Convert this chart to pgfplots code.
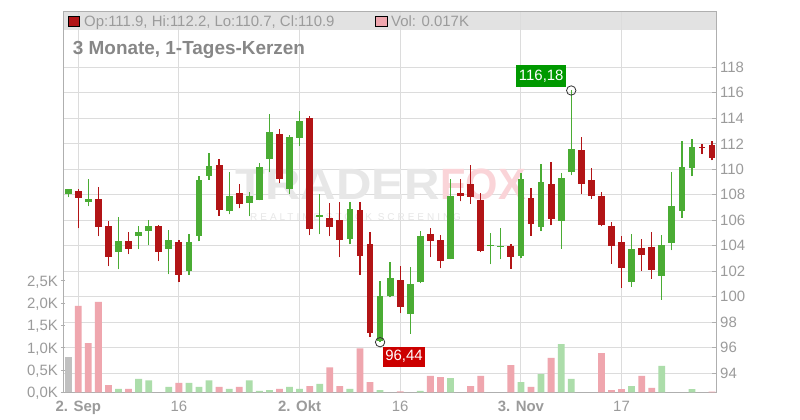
\documentclass[border=0pt]{standalone}
\usepackage{pgfplots}
\pgfplotsset{compat=1.18}
\usepackage{pgfplotstable}
\usepackage{fontspec}
\setmainfont{Liberation Sans}
\newfontfamily\wmfont[LetterSpace=30]{Liberation Sans}
\definecolor{cgreen}{RGB}{74,172,52}
\definecolor{cred}{RGB}{178,20,22}
\definecolor{vpink}{RGB}{239,166,174}
\definecolor{vgreen}{RGB}{172,221,170}
\definecolor{vgrey}{RGB}{192,192,192}
\definecolor{gridc}{RGB}{220,220,220}
\definecolor{axc}{RGB}{175,175,175}
\definecolor{txt}{RGB}{155,155,155}
\definecolor{titlec}{RGB}{135,135,135}
\definecolor{band}{RGB}{226,226,226}
\definecolor{boxgreen}{RGB}{0,153,0}
\definecolor{boxred}{RGB}{204,0,0}
\definecolor{wmgrey}{RGB}{231,231,231}
\definecolor{wmpink}{RGB}{250,212,216}
\newcommand\fs[1]{\fontsize{#1}{#1}\selectfont}

% candles: index (trading day), open, high, low, close
\pgfplotstableread{
i o h l c
0 108.05 108.42 107.82 108.42
2 107.42 109.20 107.11 107.71
5 103.50 106.22 102.17 104.34
7 104.76 105.59 103.74 105.05
8 105.15 105.99 104.05 105.52
10 103.74 105.20 101.78 104.47
12 101.99 104.89 101.71 104.26
13 104.73 109.49 104.36 109.18
14 109.49 111.29 109.18 110.28
16 106.71 109.81 106.47 107.93
18 107.33 108.24 106.32 107.93
19 107.57 110.51 107.57 110.20
20 110.77 114.34 109.76 112.93
22 108.43 112.70 108.04 112.54
23 112.49 114.57 111.86 113.79
25 106.24 108.09 104.91 106.45
28 104.52 107.46 104.13 106.92
31 96.55 101.21 96.44 100.04
32 100.04 102.70 99.96 101.45
34 98.65 102.31 97.09 100.98
35 101.13 105.15 101.08 104.73
38 102.96 109.24 102.96 107.94
42 104.00 105.04 102.57 104.08
43 103.90 105.36 102.96 104.00
45 103.21 109.68 103.05 109.21
47 105.48 110.39 105.16 108.98
49 105.95 109.68 103.75 109.29
50 109.79 116.18 109.55 111.56
56 101.16 104.90 100.77 103.72
59 101.63 104.82 99.75 104.04
60 104.22 109.75 103.67 107.09
61 106.73 112.18 106.18 110.15
62 110.09 112.34 109.47 111.71
}\greencandles

\pgfplotstableread{
i o h l c
1 108.26 108.42 105.39 107.74
3 107.71 108.65 104.76 105.46
4 105.52 105.91 102.41 103.11
6 104.34 105.05 103.35 103.74
9 105.59 105.67 102.80 103.50
11 104.26 104.42 101.16 101.71
15 110.35 110.82 106.37 106.79
17 108.17 108.87 106.94 107.26
21 112.78 113.17 108.90 109.21
24 114.03 114.18 104.83 105.30
26 106.21 107.39 104.76 105.46
27 106.06 107.46 103.11 104.44
29 106.84 107.46 101.71 103.19
30 104.18 105.12 96.86 97.18
33 101.29 102.38 98.71 99.20
36 104.89 105.36 103.11 104.37
37 104.42 104.81 102.25 102.80
39 108.17 109.24 107.49 107.89
40 108.88 110.36 107.29 107.81
41 107.62 108.12 103.50 103.63
44 103.96 104.17 102.19 103.13
46 107.72 108.51 104.77 105.71
48 108.82 110.54 105.61 106.10
51 111.48 112.50 108.06 108.82
52 109.13 110.07 107.67 107.91
53 107.88 108.19 105.53 105.61
54 105.53 105.84 102.58 103.99
55 104.27 104.74 100.69 102.26
57 103.80 104.51 102.03 103.28
58 103.88 105.05 101.40 102.10
63 111.76 111.95 111.19 111.66
64 111.90 112.20 110.70 110.90
}\redcandles

\begin{document}
\begin{tikzpicture}
\path[use as bounding box, fill=white] (-63bp,-27.7bp) rectangle (737bp,392.3bp);
\pgfplotsset{base/.style={at={(0,0)}, anchor=south west, scale only axis,
  width=653bp, height=380.6bp, xmin=-0.517, xmax=64.39},
  candle/.style={only marks, mark=*, mark size=0bp, mark options={draw=none, fill=none}, forget plot}}
% header band
\fill[band] (0bp,362.3bp) rectangle (653bp,380.6bp);
% grid, price axis
\begin{axis}[base, ymin=92.51, ymax=122.36,
  axis line style={draw=axc, line width=0.9bp},
  xtick={1,11,23,33,45,55},
  xticklabels={\textbf{2. Sep},16,\textbf{2. Okt},16,\textbf{3. Nov},17},
  ytick={94,96,...,118},
  yticklabels={94,96,98,100,102,104,106,108,110,112,114,116,118},
  ytick pos=right, xtick pos=bottom,
  grid=major, major grid style={draw=gridc, line width=1bp},
  tick style={draw=axc, line width=0.9bp},
  major tick length=4bp, tick align=inside,
  x tick style={draw=none},
  xticklabel style={font=\fs{15}, text=txt, anchor=base, yshift=-19.4bp, inner sep=0pt},
  yticklabel style={font=\fs{15}, text=txt, anchor=west, inner sep=0pt, xshift=4bp},
]
\addplot[draw=none, forget plot] coordinates {(0,100)};
\end{axis}
% volume axis
\begin{axis}[base, ymin=0, ymax=8.534,
  axis line style={draw=none},
  xtick=\empty,
  ytick={0,0.5,1,1.5,2,2.5},
  yticklabels={{0,0K},{0,5K},{1,0K},{1,5K},{2,0K},{2,5K}},
  ytick pos=left, tick align=center, major tick length=4bp,
  tick style={draw=axc, line width=0.9bp},
  yticklabel style={font=\fs{15}, text=txt, anchor=base east, inner sep=0pt, xshift=-3bp, yshift=-5.4bp},
]
\addplot[ybar, bar width=6.8bp, bar shift=0pt, fill=vgrey, draw=none] coordinates {(0,0.79)};
\addplot[ybar, bar width=6.8bp, bar shift=0pt, fill=vpink, draw=none] coordinates {
(1,1.94)(2,1.10)(3,2.03)(4,0.16)(6,0.074)(11,0.21)(15,0.12)(17,0.12)(21,0.074)
(24,0.14)(26,0.56)(27,0.14)(29,0.985)(30,0.23)(33,0.02)(36,0.37)(37,0.34)(40,0.14)
(41,0.37)(44,0.61)(46,0.12)(48,0.77)(53,0.88)(54,0.05)(55,0.07)(57,0.37)(58,0.10)(64,0.017)};
\addplot[ybar, bar width=6.8bp, bar shift=0pt, fill=vgreen, draw=none] coordinates {
(5,0.074)(7,0.30)(8,0.27)(10,0.12)(12,0.21)(13,0.12)(14,0.27)(16,0.074)(18,0.27)
(19,0.03)(20,0.05)(22,0.12)(23,0.074)(25,0.19)(28,0.074)(31,0.05)(35,0.03)(38,0.32)
(45,0.23)(47,0.41)(49,1.08)(50,0.30)(56,0.14)(59,0.59)(62,0.07)};
\end{axis}
% watermark
\node[anchor=base west, inner sep=0pt, text=wmgrey, font=\fs{44}\bfseries] at (172bp,192.3bp) {\scalebox{1.12}[1]{TRADER}};
\node[anchor=base west, inner sep=0pt, text=wmpink, font=\fs{44}\bfseries] at (377bp,192.3bp) {\scalebox{0.95}[1]{FOX}};
\node[anchor=base west, inner sep=0pt, text=wmgrey, font=\fs{10}\wmfont] at (187bp,172bp) {REALTIME STOCK SCREENING};
% candles
\begin{axis}[base, ymin=92.51, ymax=122.36, hide axis]
\addplot[candle,
  error bars/.cd, y dir=plus, y explicit, error mark=none,
  error bar style={draw=cgreen, line width=1.3bp}]
  table[x=i, y=l, y error plus expr={\thisrow{h}-\thisrow{l}}] {\greencandles};
\addplot[candle,
  error bars/.cd, y dir=both, y explicit, error mark=none,
  error bar style={draw=cgreen, line width=6.8bp}]
  table[x=i, y expr={(\thisrow{o}+\thisrow{c})/2}, y error expr={abs(\thisrow{c}-\thisrow{o})/2}] {\greencandles};
\addplot[candle,
  error bars/.cd, y dir=plus, y explicit, error mark=none,
  error bar style={draw=cred, line width=1.3bp}]
  table[x=i, y=l, y error plus expr={\thisrow{h}-\thisrow{l}}] {\redcandles};
\addplot[candle,
  error bars/.cd, y dir=both, y explicit, error mark=none,
  error bar style={draw=cred, line width=6.8bp}]
  table[x=i, y expr={(\thisrow{o}+\thisrow{c})/2}, y error expr={abs(\thisrow{c}-\thisrow{o})/2}] {\redcandles};
\addplot[only marks, mark=o, mark size=4.7bp, mark options={draw=black!80, line width=0.8bp}] coordinates {(50,116.18)(31,96.44)};
\node[fill=boxgreen, text=white, font=\fs{15}, inner xsep=2.5bp, inner ysep=4bp, text height=11bp, text depth=3bp, anchor=south east] at ([xshift=-5bp,yshift=3bp]axis cs:50,116.18) {116,18};
\node[fill=boxred, text=white, font=\fs{15}, inner xsep=2.3bp, inner ysep=3bp, text height=11bp, text depth=3bp, anchor=north west] at ([xshift=2.7bp,yshift=-4.6bp]axis cs:31,96.44) {96,44};
\end{axis}
% header legend and title
\filldraw[fill=cred, draw=black, line width=0.9bp] (5.3bp,365.8bp) rectangle (16bp,376.3bp);
\node[anchor=base west, inner sep=0pt, text=txt, font=\fs{15}] at (21bp,365.6bp) {Op:111.9, Hi:112.2, Lo:110.7, Cl:110.9};
\filldraw[fill=vpink, draw=black, line width=0.9bp] (312.5bp,365.8bp) rectangle (324bp,376.3bp);
\node[anchor=base west, inner sep=0pt, text=txt, font=\fs{15}] at (328bp,365.6bp) {Vol: 0.017K};
\node[anchor=base west, inner sep=0pt, text=titlec, font=\fs{19}\bfseries] at (9.7bp,338bp) {3 Monate, 1-Tages-Kerzen};
\end{tikzpicture}
\end{document}
